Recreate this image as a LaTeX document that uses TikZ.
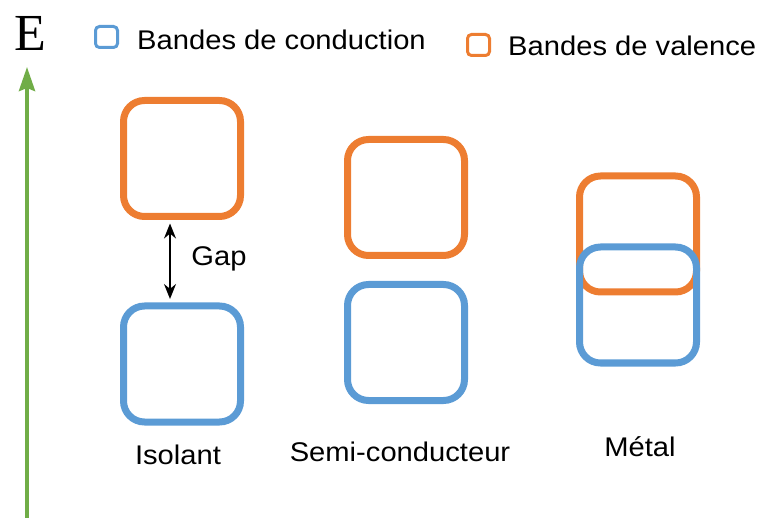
\documentclass[tikz,border=0pt]{standalone}
\usepackage{fontspec}
\usepackage{graphicx}
\setmainfont{Liberation Sans}
\newfontfamily\serifE{Liberation Serif}
\usetikzlibrary{arrows.meta}
\definecolor{bandorange}{RGB}{237,125,49}
\definecolor{bandblue}{RGB}{91,155,213}
\definecolor{axisgreen}{RGB}{112,173,71}
\newcommand{\wtext}[1]{\scalebox{1.08}[1]{#1}}
\tikzset{
  bandbox/.style={draw, line width=7pt, rounded corners=21pt, minimum width=117pt, minimum height=116pt, inner sep=0pt},
  vband/.style={bandbox, draw=bandorange},
  cband/.style={bandbox, draw=bandblue},
  legbox/.style={draw, line width=3pt, rounded corners=4pt, minimum width=22pt, minimum height=21pt, inner sep=0pt},
  lbl/.style={font=\fontsize{27}{30}\selectfont, inner sep=0pt},
}
\begin{document}
\begin{tikzpicture}[x=1pt,y=-1pt]
\useasboundingbox (0,0) rectangle (760,518);
% axis
\coordinate (ebot) at (27,518);
\coordinate (etop) at (27,67);
\draw[axisgreen, line width=4pt, -{Stealth[length=24pt,width=16pt,inset=3pt]}] (ebot) -- (etop);
\node[inner sep=0pt, font=\serifE\fontsize{52}{56}\selectfont] (E) at (30,33) {E};
% legend
\node[legbox, draw=bandblue] (lgc) at (106.5,37) {};
\node[lbl, anchor=west] (tlc) at (137,40) {\wtext{Bandes de conduction}};
\node[legbox, draw=bandorange] (lgv) at (478.5,45) {};
\node[lbl, anchor=west] (tlv) at (508,45.5) {\wtext{Bandes de valence}};
% isolant
\node[vband] (isov) at (182,158.5) {};
\node[cband] (isoc) at (182,364) {};
\draw[line width=1.8pt, {Stealth[length=15pt,width=12pt]}-{Stealth[length=15pt,width=12pt]}] ([xshift=-12pt,yshift=-3.5pt]isov.south) -- ([xshift=-12pt,yshift=3.5pt]isoc.north);
\node[lbl] (gap) at (219,259) {\wtext{Gap}};
% semi
\node[vband] (semv) at (406,197.5) {};
\node[cband] (semc) at (406,342.5) {};
% metal
\node[vband] (metv) at (638,234) {};
\node[cband] (metc) at (638,305) {};
% labels
\node[lbl] (liso) at (178,455) {\wtext{Isolant}};
\node[lbl] (lsem) at (400,452) {\wtext{Semi-conducteur}};
\node[lbl] (lmet) at (640,447) {\wtext{Métal}};
\end{tikzpicture}
\end{document}
